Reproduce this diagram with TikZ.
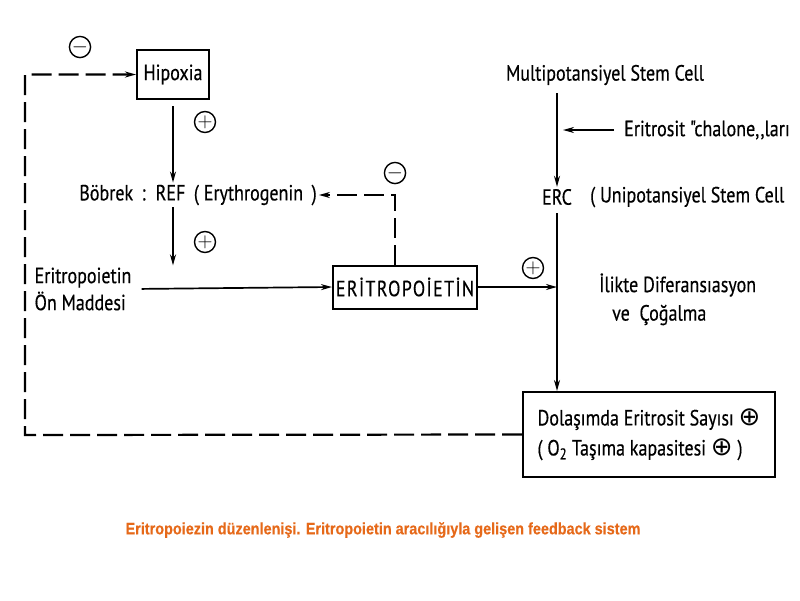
\documentclass[tikz,border=0pt]{standalone}
\usepackage{fontspec}
\usepackage{tikz}
\usetikzlibrary{arrows.meta}
\setmainfont{PT Sans}
\newfontfamily\diagfont[FakeStretch=0.82, FakeBold=0.4]{PT Sans}
\newfontfamily\capfont[FakeStretch=0.875, FakeBold=0.3]{Liberation Sans Bold}
\newfontfamily\symfont{DejaVu Sans}
\definecolor{captionorange}{RGB}{230,105,25}
\newcommand{\termsize}{\fontsize{22}{27}\selectfont}
\newcommand{\insign}{{\symfont\fontsize{26}{26}\selectfont ⊕}}
\tikzstyle{term}=[inner sep=2pt, font=\diagfont\termsize]
\tikzstyle{stage}=[term, draw, line width=2pt, inner sep=0]
\tikzstyle{sign}=[draw, circle, line width=1.4pt, inner sep=0, minimum size=21pt, font=\fontsize{20}{20}\selectfont]
\tikzstyle{flow}=[line width=1.7pt, -{Stealth[length=11pt,width=6pt]}]
\tikzstyle{feedback}=[flow, line width=2.2pt, dash pattern=on 20pt off 7pt]
\tikzstyle{diagram}=[x=1pt, y=-1pt,
                     % Page size of the reference.
                     execute at begin picture={\fill[white] (0,0) rectangle (800,600); \useasboundingbox (0,0) rectangle (800,600);}]
\begin{document}
\begin{tikzpicture}[diagram]
    \node[stage, minimum width=72pt, minimum height=49pt] (hipoxia) at (173,74.5) {Hipoxia};
    \node[term] (bobrek) at (198,195) {Böbrek \,:\, REF \,( Erythrogenin \,)};
    \node[term, align=left] (onmadde) at (83,289) {Eritropoietin\\Ön Maddesi};
    \node[stage, minimum width=144pt, minimum height=43pt] (epo) at (405,287) {\addfontfeature{LetterSpace=6}ERİTROPOİETİN};
    \node[term] (multi) at (605,75) {Multipotansiyel Stem Cell};
    \node[term, anchor=west] (chalone) at (622,130) {Eritrosit "chalone,,ları};
    \node[term] (erc) at (557,197) {ERC};
    \node[term, anchor=west] (uni) at (588,197) {( Unipotansiyel Stem Cell};
    \node[term, anchor=west] (ilik) at (597,285) {İlikte Diferansıasyon};
    \node[term, anchor=west] (cogalma) at (610,315) {ve \ Çoğalma};
    \node[stage, minimum width=252pt, minimum height=85pt, align=left] (dolasim) at (649,434.5)
        {Dolaşımda Eritrosit Sayısı \insign\\[3pt]( O\textsubscript{2} Taşıma kapasitesi \insign\ )};
    \node[sign] (minus1) at (80,47) {$-$};
    \node[sign] (plus1) at (205,122) {$+$};
    \node[sign] (plus2) at (205,242) {$+$};
    \node[sign] (minus2) at (395,173) {$-$};
    \node[sign] (plus3) at (533,268) {$+$};
    \coordinate (loop) at (25,435);
    \node[font=\capfont\fontsize{16.5}{20}\selectfont, text=captionorange] (caption) at (383,530)
        {Eritropoiezin düzenlenişi. Eritropoietin aracılığıyla gelişen feedback sistem};

    \draw[flow, shorten <=6pt] (hipoxia.south) -- (hipoxia.south |- bobrek.north);
    \draw[flow] (bobrek.south -| hipoxia.south) -- (hipoxia.south |- onmadde.north);
    \draw[flow, shorten <=8pt] (onmadde.east) -- (epo.west);
    \draw[feedback] ([xshift=-10pt]epo.north) |- (bobrek.east);
    \draw[flow] (epo.east) -- (epo.east -| erc.south);
    \draw[flow, shorten <=6pt] (multi.south -| erc.south) -- (erc.north);
    \draw[flow, shorten <=8pt, shorten >=6pt] (chalone.west) -- (chalone.west -| erc.south);
    \draw[flow, shorten <=6pt] (erc.south) -- (dolasim.north -| erc.south);
    \draw[feedback] (dolasim.west) -- (loop) |- (hipoxia.west);
\end{tikzpicture}
\end{document}
